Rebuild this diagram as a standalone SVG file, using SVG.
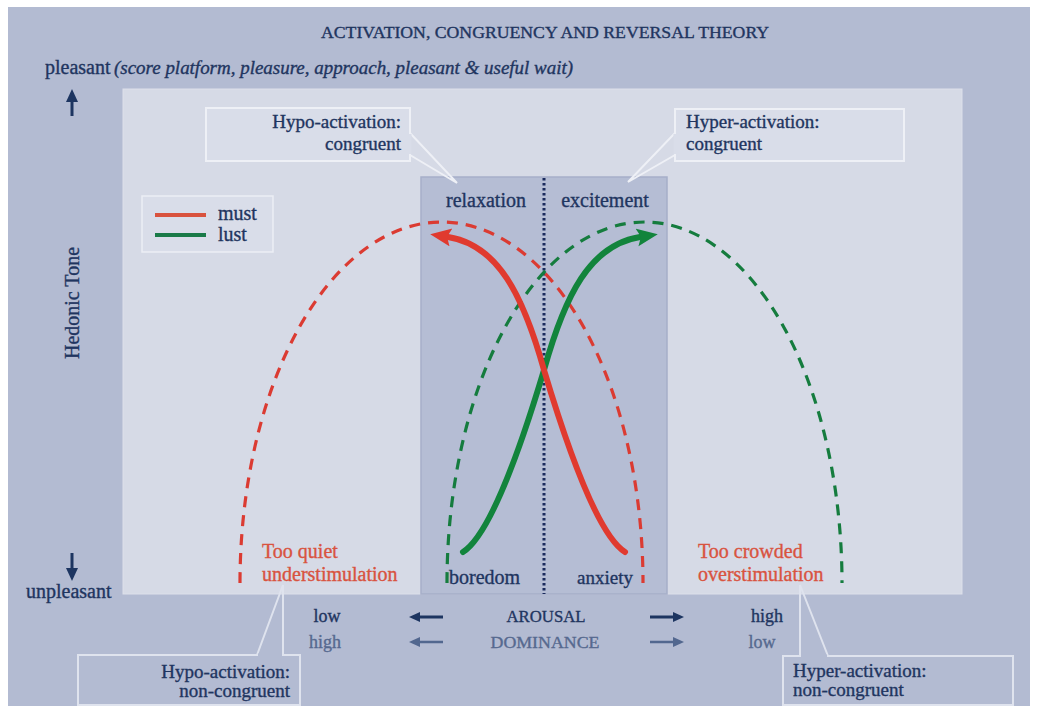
<svg xmlns="http://www.w3.org/2000/svg" width="1037" height="711" viewBox="0 0 1037 711">
  <style>
    .t { font-family: "Liberation Serif", "Times New Roman", serif; fill: #1f3560; stroke: #1f3560; stroke-width: 0.35; }
    .red { fill: #d9533f; stroke: #d9533f; }
    .mid { fill: #56698f; stroke: #56698f; }
    .box { fill: #d9dde9; stroke: #eef0f6; stroke-width: 2; }
    .box2 { fill: #b3bbd2; stroke: #dfe3ee; stroke-width: 2; }
    .ptr { fill: none; stroke: #eef0f6; stroke-width: 2; stroke-linejoin: miter; }
    .ptr2 { fill: none; stroke: #dfe3ee; stroke-width: 2; }
    .dashR { fill: none; stroke: #db3b32; stroke-width: 3.2; stroke-dasharray: 11 8; }
    .dashG { fill: none; stroke: #157c3e; stroke-width: 3.2; stroke-dasharray: 11 8; }
    .solidR { fill: none; stroke: #e03a2f; stroke-width: 6; stroke-linecap: round; }
    .solidG { fill: none; stroke: #12843c; stroke-width: 6; stroke-linecap: round; }
    .axis { stroke: #1d3561; stroke-width: 3; }
    .axis2 { stroke: #52678f; stroke-width: 2.5; }
  </style>
  <defs>
    <marker id="headR" markerUnits="userSpaceOnUse" markerWidth="24" markerHeight="20" refX="3" refY="9" orient="auto">
      <path d="M0,0 L21,9 L0,18 L4,9 z" fill="#e03a2f"/>
    </marker>
    <marker id="headG" markerUnits="userSpaceOnUse" markerWidth="24" markerHeight="20" refX="3" refY="9" orient="auto">
      <path d="M0,0 L21,9 L0,18 L4,9 z" fill="#12843c"/>
    </marker>
    <marker id="headNavy" markerUnits="userSpaceOnUse" markerWidth="14" markerHeight="12" refX="2" refY="5" orient="auto">
      <path d="M0,0 L11,5 L0,10 z" fill="#1d3561"/>
    </marker>
    <marker id="headBig" markerUnits="userSpaceOnUse" markerWidth="16" markerHeight="14" refX="2" refY="6" orient="auto">
      <path d="M0,0 L13,6 L0,12 z" fill="#1d3561"/>
    </marker>
    <marker id="headGrey" markerUnits="userSpaceOnUse" markerWidth="14" markerHeight="12" refX="2" refY="5" orient="auto">
      <path d="M0,0 L11,5 L0,10 z" fill="#52678f"/>
    </marker>
  </defs>

  <!-- page background -->
  <rect x="0" y="0" width="1037" height="711" fill="#ffffff"/>
  <rect x="8" y="7" width="1022" height="699" fill="#b3bbd2"/>

  <!-- plot area -->
  <rect x="123" y="89" width="839" height="505" fill="#d6dae6" stroke="#dde0ea" stroke-width="1"/>
  <!-- central reversal band -->
  <rect x="421" y="177" width="246" height="417" fill="#b5bdd4" stroke="#a6afc9" stroke-width="1.5"/>

  <!-- heading -->
  <text class="t" x="545" y="38" font-size="16" text-anchor="middle" textLength="448" lengthAdjust="spacingAndGlyphs">ACTIVATION, CONGRUENCY AND REVERSAL THEORY</text>
  <text class="t" x="45" y="74" font-size="20">pleasant</text>
  <text class="t" x="114" y="74" font-size="18" font-style="italic" textLength="459" lengthAdjust="spacingAndGlyphs">(score platform, pleasure, approach, pleasant &amp; useful wait)</text>

  <!-- hedonic tone axis -->
  <g id="hedonic-axis">
    <line x1="72" y1="116" x2="72" y2="100" class="axis" marker-end="url(#headBig)"/>
    <line x1="72" y1="553" x2="72" y2="570" class="axis" marker-end="url(#headBig)"/>
    <text class="t" font-size="20" text-anchor="middle" transform="translate(79,303) rotate(-90)">Hedonic Tone</text>
    <text class="t" x="26" y="598" font-size="20">unpleasant</text>
  </g>

  <!-- legend -->
  <g id="legend">
    <rect x="142" y="196" width="131" height="56" fill="#d9dde9" stroke="#eceef5" stroke-width="1.5"/>
    <line x1="155" y1="215" x2="206" y2="215" stroke="#d9523e" stroke-width="4"/>
    <line x1="155" y1="235" x2="206" y2="235" stroke="#1a7a48" stroke-width="4"/>
    <text class="t" x="218" y="220" font-size="20">must</text>
    <text class="t" x="218" y="241" font-size="20">lust</text>
  </g>

  <!-- band labels -->
  <text class="t" x="486" y="207" font-size="20" text-anchor="middle">relaxation</text>
  <text class="t" x="605" y="207" font-size="20" text-anchor="middle">excitement</text>

  <!-- connectors: curves and reversal line -->
  <g id="connectors">
    <line x1="544" y1="178" x2="544" y2="594" stroke="#1a2a5c" stroke-width="3" stroke-dasharray="2.5 2.5"/>
    <path class="dashR" d="M240,583 A201.5,361 0 0 1 643,583"/>
    <path class="dashG" d="M447,583 A197.5,361 0 0 1 842,583"/>
    <path class="solidG" d="M463,552 C490,535 520,450 544,370 C565,295 590,245 640,237" marker-end="url(#headG)"/>
    <path class="solidR" d="M625,552 C598,535 568,450 544,370 C523,295 498,245 448,237" marker-end="url(#headR)"/>
  </g>

  <!-- state labels at the bottom of the band -->
  <text class="t" x="449" y="584" font-size="20">boredom</text>
  <text class="t" x="577" y="584" font-size="19">anxiety</text>

  <!-- non-congruent zones -->
  <text class="t red" x="262" y="558" font-size="20">Too quiet</text>
  <text class="t red" x="262" y="581" font-size="20">understimulation</text>
  <text class="t red" x="698" y="558" font-size="20">Too crowded</text>
  <text class="t red" x="698" y="581" font-size="20">overstimulation</text>

  <!-- callout: hypo-activation congruent -->
  <g id="hypo-congruent">
    <rect class="box" x="206" y="108" width="204" height="53"/>
    <path class="ptr" d="M410,133 L457,183 L410,155"/>
    <line x1="410" y1="134" x2="410" y2="154" stroke="#d9dde9" stroke-width="3"/>
    <text class="t" x="401" y="128" font-size="19" text-anchor="end">Hypo-activation:</text>
    <text class="t" x="401" y="150" font-size="19" text-anchor="end">congruent</text>
  </g>

  <!-- callout: hyper-activation congruent -->
  <g id="hyper-congruent">
    <rect class="box" x="675" y="109" width="229" height="52"/>
    <path class="ptr" d="M675,133 L628,182 L675,155"/>
    <line x1="675" y1="134" x2="675" y2="154" stroke="#d9dde9" stroke-width="3"/>
    <text class="t" x="686" y="128" font-size="19">Hyper-activation:</text>
    <text class="t" x="686" y="150" font-size="19">congruent</text>
  </g>

  <!-- callout: hypo-activation non-congruent -->
  <g id="hypo-noncongruent">
    <rect class="box2" x="78" y="655" width="222" height="50"/>
    <path class="ptr2" d="M257,655 L283,585 L283,655"/>
    <line x1="258" y1="655" x2="282" y2="655" stroke="#b3bbd2" stroke-width="3"/>
    <text class="t" x="290" y="678" font-size="19" text-anchor="end">Hypo-activation:</text>
    <text class="t" x="290" y="697" font-size="19" text-anchor="end">non-congruent</text>
  </g>

  <!-- callout: hyper-activation non-congruent -->
  <g id="hyper-noncongruent">
    <rect class="box2" x="783" y="656" width="230" height="49"/>
    <path class="ptr2" d="M800,656 L800,585 L828,656"/>
    <line x1="801" y1="656" x2="827" y2="656" stroke="#b3bbd2" stroke-width="3"/>
    <text class="t" x="793" y="677" font-size="19">Hyper-activation:</text>
    <text class="t" x="793" y="696" font-size="19">non-congruent</text>
  </g>

  <!-- arousal / dominance axis -->
  <g id="arousal-axis">
    <text class="t" x="327" y="622" font-size="18" text-anchor="middle">low</text>
    <line x1="443" y1="617" x2="418" y2="617" class="axis" marker-end="url(#headNavy)"/>
    <text class="t" x="546" y="622" font-size="17" text-anchor="middle" textLength="79" lengthAdjust="spacingAndGlyphs">AROUSAL</text>
    <line x1="650" y1="617" x2="675" y2="617" class="axis" marker-end="url(#headNavy)"/>
    <text class="t" x="767" y="622" font-size="18" text-anchor="middle">high</text>

    <text class="t mid" x="325" y="648" font-size="18" text-anchor="middle">high</text>
    <line x1="443" y1="642" x2="418" y2="642" class="axis2" marker-end="url(#headGrey)"/>
    <text class="t mid" x="545" y="648" font-size="17" text-anchor="middle" textLength="109" lengthAdjust="spacingAndGlyphs">DOMINANCE</text>
    <line x1="650" y1="642" x2="675" y2="642" class="axis2" marker-end="url(#headGrey)"/>
    <text class="t mid" x="762" y="648" font-size="18" text-anchor="middle">low</text>
  </g>
</svg>
